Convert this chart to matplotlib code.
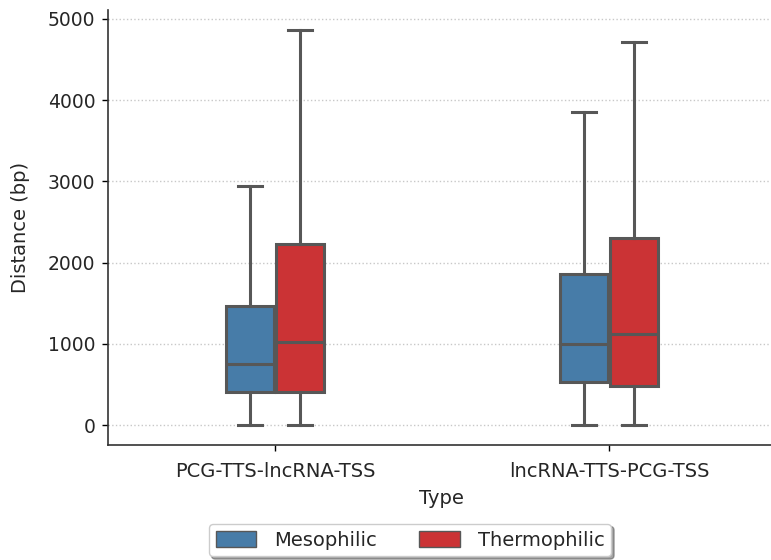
import matplotlib
matplotlib.use("Agg")
import matplotlib.pyplot as plt
from matplotlib.patches import Patch

# data (box statistics, bp)
types = ["PCG-TTS-lncRNA-TSS", "lncRNA-TTS-PCG-TSS"]
groups = ["Mesophilic", "Thermophilic"]
whislo = {"Mesophilic": [0, 0], "Thermophilic": [0, 0]}
q1 = {"Mesophilic": [410, 528], "Thermophilic": [410, 480]}
med = {"Mesophilic": [747, 1000], "Thermophilic": [1022, 1121]}
q3 = {"Mesophilic": [1466, 1860], "Thermophilic": [2225, 2303]}
whishi = {"Mesophilic": [2947, 3855], "Thermophilic": [4865, 4717]}

colors = {"Mesophilic": "#477ca8", "Thermophilic": "#cb3335"}
line_col = "#575757"
txt_col = "#262626"
fs = 14

fig = plt.figure(figsize=(7.71, 5.6), dpi=100)
ax = fig.add_axes([0.140, 0.2054, 0.8664, 0.7768])

width = 0.145
offsets = [-0.075, 0.075]
for g, off in zip(groups, offsets):
    stats = []
    for i in range(len(types)):
        stats.append({"whislo": whislo[g][i], "q1": q1[g][i], "med": med[g][i],
                      "q3": q3[g][i], "whishi": whishi[g][i], "fliers": []})
    pos = [i + off for i in range(len(types))]
    lp = dict(color=line_col, linewidth=2.2)
    ax.bxp(stats, positions=pos, widths=width, patch_artist=True,
           showfliers=False, manage_ticks=False,
           boxprops=dict(facecolor=colors[g], edgecolor=line_col, linewidth=2.2),
           medianprops=lp, whiskerprops=lp, capprops=lp)

ax.set_xlim(-0.5, 1.5)
ax.set_ylim(-243, 5108)
ax.set_xticks(range(len(types)))
ax.set_xticklabels(types, fontsize=fs, color=txt_col)
ax.set_yticks([0, 1000, 2000, 3000, 4000, 5000])
ax.tick_params(axis="y", labelsize=13.5, labelcolor=txt_col, length=4, width=1, pad=5)
ax.tick_params(axis="x", length=4, width=1, pad=8)
ax.set_xlabel("Type", fontsize=fs, color=txt_col, labelpad=6)
ax.set_ylabel("Distance (bp)", fontsize=fs, color=txt_col, labelpad=13)

ax.yaxis.grid(True, linestyle=":", color="#c8c8c8", linewidth=1)
ax.set_axisbelow(True)
ax.spines["top"].set_visible(False)
ax.spines["right"].set_visible(False)
for s in ["left", "bottom"]:
    ax.spines[s].set_color("#333333")
    ax.spines[s].set_linewidth(1.2)

handles = [Patch(facecolor=colors[g], edgecolor=line_col, label=g) for g in groups]
leg = fig.legend(handles=handles, loc="center", bbox_to_anchor=(410 / 771, 1 - 540 / 560),
                 ncol=2, fontsize=fs, shadow=True, fancybox=True, framealpha=1,
                 handlelength=2.1, handleheight=0.9, handletextpad=0.9,
                 columnspacing=2.2, borderpad=0.35)
for t in leg.get_texts():
    t.set_color(txt_col)

fig.savefig("out.png", dpi=100)
